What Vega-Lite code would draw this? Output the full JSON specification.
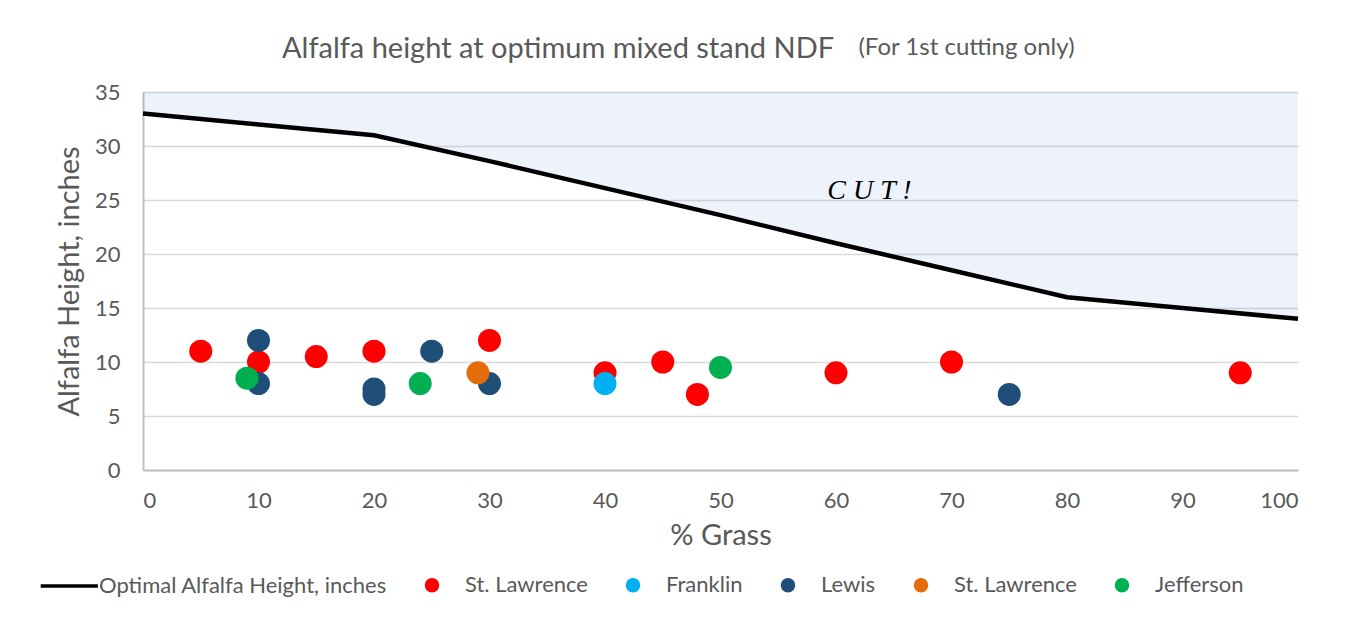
{
  "$schema": "https://vega.github.io/schema/vega-lite/v6.json",
  "width": 1155,
  "height": 378,
  "autosize": {"type": "none"},
  "padding": {"left": 143, "top": 92, "right": 64, "bottom": 167},
  "background": "white",
  "title": {
    "text": "Alfalfa height at optimum mixed stand NDF",
    "font": "Lato",
    "fontSize": 29,
    "fontWeight": "normal",
    "color": "#595959",
    "anchor": "start",
    "offset": 29,
    "dx": 227,
    "dy": 58
  },
  "config": {
    "view": {"stroke": null},
    "axis": {
      "labelFont": "Lato",
      "titleFont": "Lato",
      "labelColor": "#595959",
      "titleColor": "#595959",
      "labelFontSize": 22,
      "titleFontWeight": "normal",
      "gridColor": "#d9d9d9",
      "gridWidth": 1.5,
      "gridOpacity": 1,
      "ticks": false,
      "domainColor": "#bfbfbf",
      "domainWidth": 2
    },
    "legend": {
      "labelFont": "Lato",
      "labelFontSize": 22,
      "labelColor": "#595959",
      "labelLimit": 500,
      "symbolSize": 121,
      "symbolStrokeWidth": 3.5
    }
  },
  "resolve": {"axis": {"x": "independent"}},
  "datasets": {
    "optimal": [
      {"pct": 0, "h": 33, "series": "Optimal Alfalfa Height, inches"},
      {"pct": 10, "h": 32, "series": "Optimal Alfalfa Height, inches"},
      {"pct": 20, "h": 31, "series": "Optimal Alfalfa Height, inches"},
      {"pct": 30, "h": 28.6, "series": "Optimal Alfalfa Height, inches"},
      {"pct": 40, "h": 26.1, "series": "Optimal Alfalfa Height, inches"},
      {"pct": 50, "h": 23.6, "series": "Optimal Alfalfa Height, inches"},
      {"pct": 60, "h": 21, "series": "Optimal Alfalfa Height, inches"},
      {"pct": 70, "h": 18.5, "series": "Optimal Alfalfa Height, inches"},
      {"pct": 80, "h": 16, "series": "Optimal Alfalfa Height, inches"},
      {"pct": 90, "h": 15, "series": "Optimal Alfalfa Height, inches"},
      {"pct": 100, "h": 14, "series": "Optimal Alfalfa Height, inches"}
    ],
    "points": [
      {"pct": 5, "h": 11, "series": "St. Lawrence"},
      {"pct": 10, "h": 10, "series": "St. Lawrence"},
      {"pct": 15, "h": 10.5, "series": "St. Lawrence"},
      {"pct": 20, "h": 11, "series": "St. Lawrence"},
      {"pct": 30, "h": 12, "series": "St. Lawrence"},
      {"pct": 40, "h": 9, "series": "St. Lawrence"},
      {"pct": 45, "h": 10, "series": "St. Lawrence"},
      {"pct": 48, "h": 7, "series": "St. Lawrence"},
      {"pct": 60, "h": 9, "series": "St. Lawrence"},
      {"pct": 70, "h": 10, "series": "St. Lawrence"},
      {"pct": 95, "h": 9, "series": "St. Lawrence"},
      {"pct": 40, "h": 8, "series": "Franklin"},
      {"pct": 10, "h": 12, "series": "Lewis"},
      {"pct": 10, "h": 8, "series": "Lewis"},
      {"pct": 20, "h": 7.5, "series": "Lewis"},
      {"pct": 20, "h": 7, "series": "Lewis"},
      {"pct": 25, "h": 11, "series": "Lewis"},
      {"pct": 30, "h": 8, "series": "Lewis"},
      {"pct": 75, "h": 7, "series": "Lewis"},
      {"pct": 29, "h": 9, "series": "St. Lawrence 2"},
      {"pct": 9, "h": 8.5, "series": "Jefferson"},
      {"pct": 24, "h": 8, "series": "Jefferson"},
      {"pct": 50, "h": 9.5, "series": "Jefferson"}
    ],
    "label": [
      {"pct": 62.9, "h": 25.8, "text": "C U T !"}
    ]
  },
  "layer": [
    {
      "data": {"name": "optimal"},
      "mark": {"type": "area", "color": "#4472c4", "opacity": 0.09},
      "encoding": {
        "x": {"field": "pct", "type": "quantitative", "axis": null},
        "y": {"field": "h", "type": "quantitative"},
        "y2": {"datum": 35}
      }
    },
    {
      "data": {"name": "points"},
      "mark": {"type": "point", "filled": true, "opacity": 1, "size": 530},
      "encoding": {
        "x": {
          "field": "pct", "type": "quantitative",
          "scale": {"domain": [0, 100], "nice": false},
          "axis": {"values": [0,10,20,30,40,50,60,70,80,90,100], "title": "% Grass", "titleFontSize": 29, "labelPadding": 20, "titlePadding": 10}
        },
        "y": {
          "field": "h", "type": "quantitative",
          "scale": {"domain": [0, 35], "nice": false},
          "axis": {"values": [0,5,10,15,20,25,30,35], "title": "Alfalfa Height, inches", "titleFontSize": 29, "labelPadding": 23, "titlePadding": 10}
        },
        "color": {
          "field": "series", "type": "nominal",
          "scale": {
            "domain": ["Optimal Alfalfa Height, inches", "St. Lawrence", "Franklin", "Lewis", "St. Lawrence 2", "Jefferson"],
            "range": ["#000000", "#FF0000", "#00B0F0", "#1F4E79", "#E46C0A", "#00B050"]
          },
          "legend": {
            "title": null,
            "orient": "none",
            "direction": "horizontal",
            "columns": 6,
            "legendX": -88,
            "legendY": 482,
            "columnPadding": 32,
            "labelOffset": 22,
            "labelExpr": "datum.label == 'St. Lawrence 2' ? 'St. Lawrence' : datum.label"
          }
        },
        "shape": {
          "field": "series", "type": "nominal",
          "scale": {
            "domain": ["Optimal Alfalfa Height, inches", "St. Lawrence", "Franklin", "Lewis", "St. Lawrence 2", "Jefferson"],
            "range": ["M-4.6,0H5.8", "circle", "circle", "circle", "circle", "circle"]
          },
          "legend": {
            "title": null,
            "orient": "none",
            "direction": "horizontal",
            "columns": 6,
            "legendX": -88,
            "legendY": 482,
            "columnPadding": 32,
            "labelOffset": 22,
            "labelExpr": "datum.label == 'St. Lawrence 2' ? 'St. Lawrence' : datum.label"
          }
        }
      }
    },
    {
      "data": {"name": "optimal"},
      "mark": {"type": "line", "strokeWidth": 4.5},
      "encoding": {
        "x": {"field": "pct", "type": "quantitative", "axis": null},
        "y": {"field": "h", "type": "quantitative"},
        "color": {"field": "series", "type": "nominal"}
      }
    },
    {
      "data": {"name": "label"},
      "mark": {"type": "text", "font": "Liberation Serif", "fontStyle": "italic", "fontSize": 28, "color": "#000000"},
      "encoding": {
        "x": {
          "field": "pct", "type": "quantitative",
          "axis": {
            "orient": "top", "labels": false, "domain": false, "grid": false, "ticks": false,
            "title": "(For 1st cutting only)", "titleFontSize": 24,
            "titleX": 823, "titleY": -45, "titleAlign": "center", "titleBaseline": "middle", "titleAngle": 0
          }
        },
        "y": {"field": "h", "type": "quantitative"},
        "text": {"field": "text"}
      }
    }
  ]
}
